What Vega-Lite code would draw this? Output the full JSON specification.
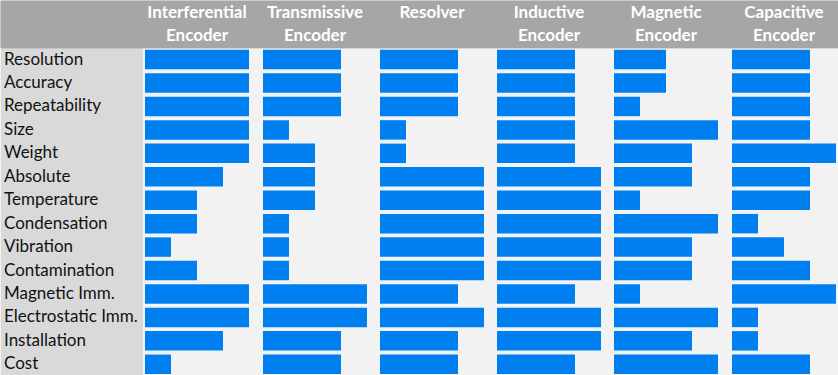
{
  "$schema": "https://vega.github.io/schema/vega-lite/v6.json",
  "padding": 0,
  "background": "#f2f2f2",
  "spacing": 0,
  "bounds": "flush",
  "config": {"view": {"stroke": null, "fill": "#f2f2f2"}, "concat": {"spacing": 0}},
  "data": {"values": [
    {"e":"Interferential Encoder","r":"_h1","t":"Interferential","k":"h"},
    {"e":"Interferential Encoder","r":"_h2","t":"Encoder","k":"h"},
    {"e":"Transmissive Encoder","r":"_h1","t":"Transmissive","k":"h"},
    {"e":"Transmissive Encoder","r":"_h2","t":"Encoder","k":"h"},
    {"e":"Resolver","r":"_h1","t":"Resolver","k":"h"},
    {"e":"Resolver","r":"_h2","t":"","k":"h"},
    {"e":"Inductive Encoder","r":"_h1","t":"Inductive","k":"h"},
    {"e":"Inductive Encoder","r":"_h2","t":"Encoder","k":"h"},
    {"e":"Magnetic Encoder","r":"_h1","t":"Magnetic","k":"h"},
    {"e":"Magnetic Encoder","r":"_h2","t":"Encoder","k":"h"},
    {"e":"Capacitive Encoder","r":"_h1","t":"Capacitive","k":"h"},
    {"e":"Capacitive Encoder","r":"_h2","t":"Encoder","k":"h"},

    {"e":"Interferential Encoder","r":"Resolution","v":4,"k":"b"},
    {"e":"Interferential Encoder","r":"Accuracy","v":4,"k":"b"},
    {"e":"Interferential Encoder","r":"Repeatability","v":4,"k":"b"},
    {"e":"Interferential Encoder","r":"Size","v":4,"k":"b"},
    {"e":"Interferential Encoder","r":"Weight","v":4,"k":"b"},
    {"e":"Interferential Encoder","r":"Absolute","v":3,"k":"b"},
    {"e":"Interferential Encoder","r":"Temperature","v":2,"k":"b"},
    {"e":"Interferential Encoder","r":"Condensation","v":2,"k":"b"},
    {"e":"Interferential Encoder","r":"Vibration","v":1,"k":"b"},
    {"e":"Interferential Encoder","r":"Contamination","v":2,"k":"b"},
    {"e":"Interferential Encoder","r":"Magnetic Imm.","v":4,"k":"b"},
    {"e":"Interferential Encoder","r":"Electrostatic Imm.","v":4,"k":"b"},
    {"e":"Interferential Encoder","r":"Installation","v":3,"k":"b"},
    {"e":"Interferential Encoder","r":"Cost","v":1,"k":"b"},

    {"e":"Transmissive Encoder","r":"Resolution","v":3,"k":"b"},
    {"e":"Transmissive Encoder","r":"Accuracy","v":3,"k":"b"},
    {"e":"Transmissive Encoder","r":"Repeatability","v":3,"k":"b"},
    {"e":"Transmissive Encoder","r":"Size","v":1,"k":"b"},
    {"e":"Transmissive Encoder","r":"Weight","v":2,"k":"b"},
    {"e":"Transmissive Encoder","r":"Absolute","v":2,"k":"b"},
    {"e":"Transmissive Encoder","r":"Temperature","v":2,"k":"b"},
    {"e":"Transmissive Encoder","r":"Condensation","v":1,"k":"b"},
    {"e":"Transmissive Encoder","r":"Vibration","v":1,"k":"b"},
    {"e":"Transmissive Encoder","r":"Contamination","v":1,"k":"b"},
    {"e":"Transmissive Encoder","r":"Magnetic Imm.","v":4,"k":"b"},
    {"e":"Transmissive Encoder","r":"Electrostatic Imm.","v":4,"k":"b"},
    {"e":"Transmissive Encoder","r":"Installation","v":3,"k":"b"},
    {"e":"Transmissive Encoder","r":"Cost","v":3,"k":"b"},

    {"e":"Resolver","r":"Resolution","v":3,"k":"b"},
    {"e":"Resolver","r":"Accuracy","v":3,"k":"b"},
    {"e":"Resolver","r":"Repeatability","v":3,"k":"b"},
    {"e":"Resolver","r":"Size","v":1,"k":"b"},
    {"e":"Resolver","r":"Weight","v":1,"k":"b"},
    {"e":"Resolver","r":"Absolute","v":4,"k":"b"},
    {"e":"Resolver","r":"Temperature","v":4,"k":"b"},
    {"e":"Resolver","r":"Condensation","v":4,"k":"b"},
    {"e":"Resolver","r":"Vibration","v":4,"k":"b"},
    {"e":"Resolver","r":"Contamination","v":4,"k":"b"},
    {"e":"Resolver","r":"Magnetic Imm.","v":3,"k":"b"},
    {"e":"Resolver","r":"Electrostatic Imm.","v":4,"k":"b"},
    {"e":"Resolver","r":"Installation","v":3,"k":"b"},
    {"e":"Resolver","r":"Cost","v":3,"k":"b"},

    {"e":"Inductive Encoder","r":"Resolution","v":3,"k":"b"},
    {"e":"Inductive Encoder","r":"Accuracy","v":3,"k":"b"},
    {"e":"Inductive Encoder","r":"Repeatability","v":3,"k":"b"},
    {"e":"Inductive Encoder","r":"Size","v":3,"k":"b"},
    {"e":"Inductive Encoder","r":"Weight","v":3,"k":"b"},
    {"e":"Inductive Encoder","r":"Absolute","v":4,"k":"b"},
    {"e":"Inductive Encoder","r":"Temperature","v":4,"k":"b"},
    {"e":"Inductive Encoder","r":"Condensation","v":4,"k":"b"},
    {"e":"Inductive Encoder","r":"Vibration","v":4,"k":"b"},
    {"e":"Inductive Encoder","r":"Contamination","v":4,"k":"b"},
    {"e":"Inductive Encoder","r":"Magnetic Imm.","v":3,"k":"b"},
    {"e":"Inductive Encoder","r":"Electrostatic Imm.","v":4,"k":"b"},
    {"e":"Inductive Encoder","r":"Installation","v":4,"k":"b"},
    {"e":"Inductive Encoder","r":"Cost","v":3,"k":"b"},

    {"e":"Magnetic Encoder","r":"Resolution","v":2,"k":"b"},
    {"e":"Magnetic Encoder","r":"Accuracy","v":2,"k":"b"},
    {"e":"Magnetic Encoder","r":"Repeatability","v":1,"k":"b"},
    {"e":"Magnetic Encoder","r":"Size","v":4,"k":"b"},
    {"e":"Magnetic Encoder","r":"Weight","v":3,"k":"b"},
    {"e":"Magnetic Encoder","r":"Absolute","v":3,"k":"b"},
    {"e":"Magnetic Encoder","r":"Temperature","v":1,"k":"b"},
    {"e":"Magnetic Encoder","r":"Condensation","v":4,"k":"b"},
    {"e":"Magnetic Encoder","r":"Vibration","v":3,"k":"b"},
    {"e":"Magnetic Encoder","r":"Contamination","v":3,"k":"b"},
    {"e":"Magnetic Encoder","r":"Magnetic Imm.","v":1,"k":"b"},
    {"e":"Magnetic Encoder","r":"Electrostatic Imm.","v":4,"k":"b"},
    {"e":"Magnetic Encoder","r":"Installation","v":3,"k":"b"},
    {"e":"Magnetic Encoder","r":"Cost","v":4,"k":"b"},

    {"e":"Capacitive Encoder","r":"Resolution","v":3,"k":"b"},
    {"e":"Capacitive Encoder","r":"Accuracy","v":3,"k":"b"},
    {"e":"Capacitive Encoder","r":"Repeatability","v":3,"k":"b"},
    {"e":"Capacitive Encoder","r":"Size","v":3,"k":"b"},
    {"e":"Capacitive Encoder","r":"Weight","v":4,"k":"b"},
    {"e":"Capacitive Encoder","r":"Absolute","v":3,"k":"b"},
    {"e":"Capacitive Encoder","r":"Temperature","v":3,"k":"b"},
    {"e":"Capacitive Encoder","r":"Condensation","v":1,"k":"b"},
    {"e":"Capacitive Encoder","r":"Vibration","v":2,"k":"b"},
    {"e":"Capacitive Encoder","r":"Contamination","v":3,"k":"b"},
    {"e":"Capacitive Encoder","r":"Magnetic Imm.","v":4,"k":"b"},
    {"e":"Capacitive Encoder","r":"Electrostatic Imm.","v":1,"k":"b"},
    {"e":"Capacitive Encoder","r":"Installation","v":1,"k":"b"},
    {"e":"Capacitive Encoder","r":"Cost","v":3,"k":"b"}
  ]},
  "hconcat": [
    {
      "width": 142, "height": 375,
      "view": {"fill": "#d9d9d9", "stroke": null},
      "transform": [{"filter": "datum.e === 'Interferential Encoder'"}],
      "layer": [
        {"transform": [{"filter": "datum.k === 'h'"}], "mark": {"type": "rect", "color": "#a6a6a6", "stroke": "#a6a6a6", "strokeWidth": 1},
         "encoding": {"y": {"field": "r", "type": "nominal", "sort": null, "axis": null, "scale": {"type": "band", "paddingInner": 0, "paddingOuter": 0, "domain": ["_h1","_h2","Resolution","Accuracy","Repeatability","Size","Weight","Absolute","Temperature","Condensation","Vibration","Contamination","Magnetic Imm.","Electrostatic Imm.","Installation","Cost"]}}}},
        {"transform": [{"filter": "datum.k === 'b'"}], "mark": {"type": "text", "align": "left", "baseline": "middle", "dx": 3, "font": "Lato", "fontSize": 17, "color": "#111111"},
         "encoding": {"y": {"field": "r", "type": "nominal", "sort": null, "axis": null}, "x": {"datum": 0, "type": "quantitative", "axis": null, "scale": {"domain": [0, 1], "nice": false}}, "text": {"field": "r"}}}
      ]
    },
    {
      "width": 118, "height": 375,
      "transform": [{"filter": "datum.e === 'Interferential Encoder'"}],
      "layer": [
        {"transform": [{"filter": "datum.k === 'h'"}], "mark": {"type": "rect", "color": "#a6a6a6", "stroke": "#a6a6a6", "strokeWidth": 1},
         "encoding": {"y": {"field": "r", "type": "nominal", "sort": null, "axis": null, "scale": {"type": "band", "paddingInner": 0, "paddingOuter": 0, "domain": ["_h1","_h2","Resolution","Accuracy","Repeatability","Size","Weight","Absolute","Temperature","Condensation","Vibration","Contamination","Magnetic Imm.","Electrostatic Imm.","Installation","Cost"]}}}},
        {"transform": [{"filter": "datum.k === 'h'"}], "mark": {"type": "text", "align": "center", "baseline": "middle", "font": "Lato", "fontWeight": "bold", "fontSize": 17, "color": "white"},
         "encoding": {"y": {"field": "r", "type": "nominal", "sort": null, "axis": null}, "x": {"datum": 2, "type": "quantitative", "axis": null, "scale": {"domain": [-0.0769, 4.4615], "nice": false}}, "text": {"field": "t"}}},
        {"transform": [{"filter": "datum.k === 'b'"}], "mark": {"type": "bar", "color": "#0080f0", "height": {"band": 0.83}},
         "encoding": {"y": {"field": "r", "type": "nominal", "sort": null, "axis": null}, "x": {"field": "v", "type": "quantitative", "axis": null, "scale": {"domain": [-0.0769, 4.4615], "nice": false}}}}
      ]
    },
    {
      "width": 117, "height": 375,
      "transform": [{"filter": "datum.e === 'Transmissive Encoder'"}],
      "layer": [
        {"transform": [{"filter": "datum.k === 'h'"}], "mark": {"type": "rect", "color": "#a6a6a6", "stroke": "#a6a6a6", "strokeWidth": 1},
         "encoding": {"y": {"field": "r", "type": "nominal", "sort": null, "axis": null, "scale": {"type": "band", "paddingInner": 0, "paddingOuter": 0, "domain": ["_h1","_h2","Resolution","Accuracy","Repeatability","Size","Weight","Absolute","Temperature","Condensation","Vibration","Contamination","Magnetic Imm.","Electrostatic Imm.","Installation","Cost"]}}}},
        {"transform": [{"filter": "datum.k === 'h'"}], "mark": {"type": "text", "align": "center", "baseline": "middle", "font": "Lato", "fontWeight": "bold", "fontSize": 17, "color": "white"},
         "encoding": {"y": {"field": "r", "type": "nominal", "sort": null, "axis": null}, "x": {"datum": 2, "type": "quantitative", "axis": null, "scale": {"domain": [-0.0769, 4.4231], "nice": false}}, "text": {"field": "t"}}},
        {"transform": [{"filter": "datum.k === 'b'"}], "mark": {"type": "bar", "color": "#0080f0", "height": {"band": 0.83}},
         "encoding": {"y": {"field": "r", "type": "nominal", "sort": null, "axis": null}, "x": {"field": "v", "type": "quantitative", "axis": null, "scale": {"domain": [-0.0769, 4.4231], "nice": false}}}}
      ]
    },
    {
      "width": 117, "height": 375,
      "transform": [{"filter": "datum.e === 'Resolver'"}],
      "layer": [
        {"transform": [{"filter": "datum.k === 'h'"}], "mark": {"type": "rect", "color": "#a6a6a6", "stroke": "#a6a6a6", "strokeWidth": 1},
         "encoding": {"y": {"field": "r", "type": "nominal", "sort": null, "axis": null, "scale": {"type": "band", "paddingInner": 0, "paddingOuter": 0, "domain": ["_h1","_h2","Resolution","Accuracy","Repeatability","Size","Weight","Absolute","Temperature","Condensation","Vibration","Contamination","Magnetic Imm.","Electrostatic Imm.","Installation","Cost"]}}}},
        {"transform": [{"filter": "datum.k === 'h'"}], "mark": {"type": "text", "align": "center", "baseline": "middle", "font": "Lato", "fontWeight": "bold", "fontSize": 17, "color": "white"},
         "encoding": {"y": {"field": "r", "type": "nominal", "sort": null, "axis": null}, "x": {"datum": 2, "type": "quantitative", "axis": null, "scale": {"domain": [-0.0769, 4.4231], "nice": false}}, "text": {"field": "t"}}},
        {"transform": [{"filter": "datum.k === 'b'"}], "mark": {"type": "bar", "color": "#0080f0", "height": {"band": 0.83}},
         "encoding": {"y": {"field": "r", "type": "nominal", "sort": null, "axis": null}, "x": {"field": "v", "type": "quantitative", "axis": null, "scale": {"domain": [-0.0769, 4.4231], "nice": false}}}}
      ]
    },
    {
      "width": 117, "height": 375,
      "transform": [{"filter": "datum.e === 'Inductive Encoder'"}],
      "layer": [
        {"transform": [{"filter": "datum.k === 'h'"}], "mark": {"type": "rect", "color": "#a6a6a6", "stroke": "#a6a6a6", "strokeWidth": 1},
         "encoding": {"y": {"field": "r", "type": "nominal", "sort": null, "axis": null, "scale": {"type": "band", "paddingInner": 0, "paddingOuter": 0, "domain": ["_h1","_h2","Resolution","Accuracy","Repeatability","Size","Weight","Absolute","Temperature","Condensation","Vibration","Contamination","Magnetic Imm.","Electrostatic Imm.","Installation","Cost"]}}}},
        {"transform": [{"filter": "datum.k === 'h'"}], "mark": {"type": "text", "align": "center", "baseline": "middle", "font": "Lato", "fontWeight": "bold", "fontSize": 17, "color": "white"},
         "encoding": {"y": {"field": "r", "type": "nominal", "sort": null, "axis": null}, "x": {"datum": 2, "type": "quantitative", "axis": null, "scale": {"domain": [-0.0769, 4.4231], "nice": false}}, "text": {"field": "t"}}},
        {"transform": [{"filter": "datum.k === 'b'"}], "mark": {"type": "bar", "color": "#0080f0", "height": {"band": 0.83}},
         "encoding": {"y": {"field": "r", "type": "nominal", "sort": null, "axis": null}, "x": {"field": "v", "type": "quantitative", "axis": null, "scale": {"domain": [-0.0769, 4.4231], "nice": false}}}}
      ]
    },
    {
      "width": 118, "height": 375,
      "transform": [{"filter": "datum.e === 'Magnetic Encoder'"}],
      "layer": [
        {"transform": [{"filter": "datum.k === 'h'"}], "mark": {"type": "rect", "color": "#a6a6a6", "stroke": "#a6a6a6", "strokeWidth": 1},
         "encoding": {"y": {"field": "r", "type": "nominal", "sort": null, "axis": null, "scale": {"type": "band", "paddingInner": 0, "paddingOuter": 0, "domain": ["_h1","_h2","Resolution","Accuracy","Repeatability","Size","Weight","Absolute","Temperature","Condensation","Vibration","Contamination","Magnetic Imm.","Electrostatic Imm.","Installation","Cost"]}}}},
        {"transform": [{"filter": "datum.k === 'h'"}], "mark": {"type": "text", "align": "center", "baseline": "middle", "font": "Lato", "fontWeight": "bold", "fontSize": 17, "color": "white"},
         "encoding": {"y": {"field": "r", "type": "nominal", "sort": null, "axis": null}, "x": {"datum": 2, "type": "quantitative", "axis": null, "scale": {"domain": [-0.0769, 4.4615], "nice": false}}, "text": {"field": "t"}}},
        {"transform": [{"filter": "datum.k === 'b'"}], "mark": {"type": "bar", "color": "#0080f0", "height": {"band": 0.83}},
         "encoding": {"y": {"field": "r", "type": "nominal", "sort": null, "axis": null}, "x": {"field": "v", "type": "quantitative", "axis": null, "scale": {"domain": [-0.0769, 4.4615], "nice": false}}}}
      ]
    },
    {
      "width": 109, "height": 375,
      "transform": [{"filter": "datum.e === 'Capacitive Encoder'"}],
      "layer": [
        {"transform": [{"filter": "datum.k === 'h'"}], "mark": {"type": "rect", "color": "#a6a6a6", "stroke": "#a6a6a6", "strokeWidth": 1},
         "encoding": {"y": {"field": "r", "type": "nominal", "sort": null, "axis": null, "scale": {"type": "band", "paddingInner": 0, "paddingOuter": 0, "domain": ["_h1","_h2","Resolution","Accuracy","Repeatability","Size","Weight","Absolute","Temperature","Condensation","Vibration","Contamination","Magnetic Imm.","Electrostatic Imm.","Installation","Cost"]}}}},
        {"transform": [{"filter": "datum.k === 'h'"}], "mark": {"type": "text", "align": "center", "baseline": "middle", "font": "Lato", "fontWeight": "bold", "fontSize": 17, "color": "white"},
         "encoding": {"y": {"field": "r", "type": "nominal", "sort": null, "axis": null}, "x": {"datum": 2, "type": "quantitative", "axis": null, "scale": {"domain": [-0.0769, 4.1154], "nice": false}}, "text": {"field": "t"}}},
        {"transform": [{"filter": "datum.k === 'b'"}], "mark": {"type": "bar", "color": "#0080f0", "height": {"band": 0.83}},
         "encoding": {"y": {"field": "r", "type": "nominal", "sort": null, "axis": null}, "x": {"field": "v", "type": "quantitative", "axis": null, "scale": {"domain": [-0.0769, 4.1154], "nice": false}}}}
      ]
    }
  ]
}
